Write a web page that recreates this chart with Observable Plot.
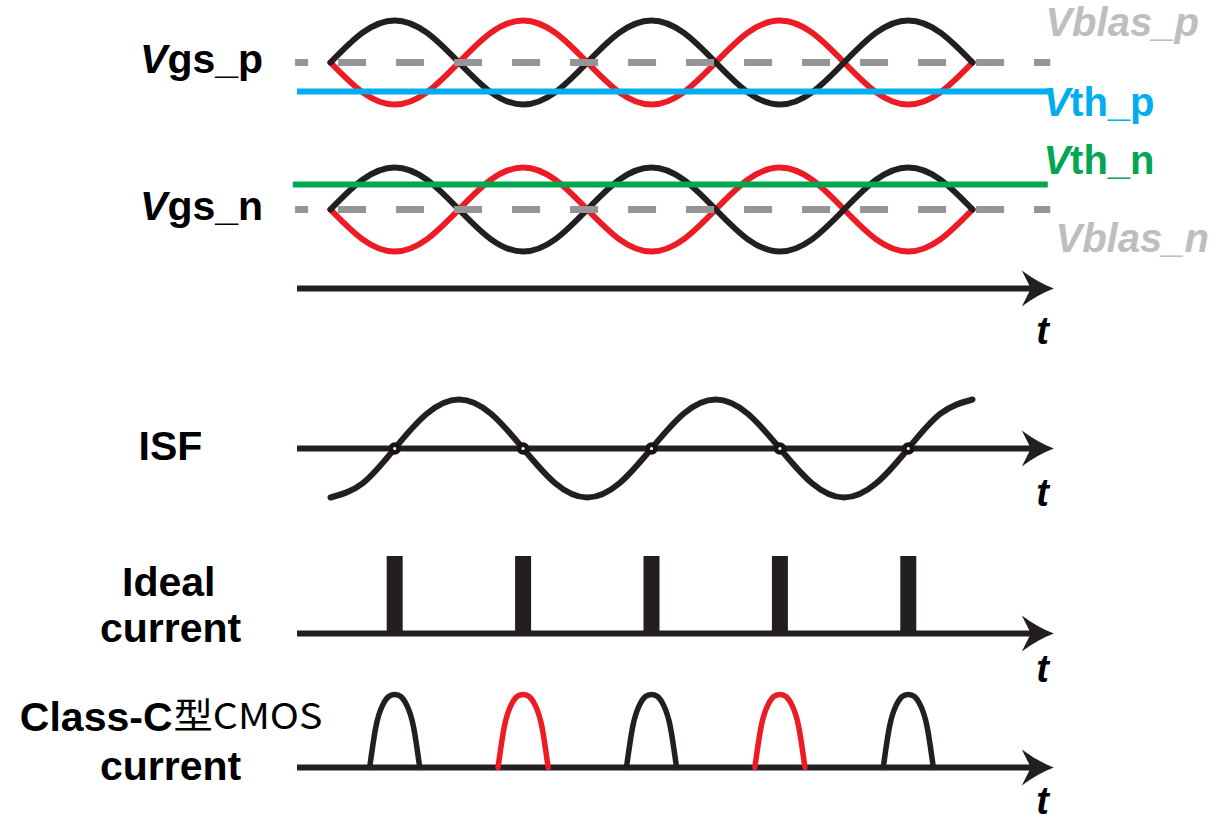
<!DOCTYPE html>
<html>
<head>
<meta charset="utf-8">
<script src="https://cdn.jsdelivr.net/npm/d3@7"></script>
<script src="https://cdn.jsdelivr.net/npm/@observablehq/plot@0.6"></script>
<style>
  html, body { margin: 0; padding: 0; background: #ffffff; }
  #chart svg { display: block; }
</style>
</head>
<body>
<div id="chart"></div>
<script>
// ---------- data (time in half-periods of the oscillation) ----------
const knotT = [0, 0.25, 0.5, 0.75, 1, 1.25, 1.5, 1.75, 2, 2.25, 2.5, 2.75, 3, 3.25, 3.5, 3.75, 4, 4.25, 4.5, 4.75, 5];
// Vgs waveforms (normalised)
const vgsBlack = [0, 0.71, 1, 0.71, 0, -0.71, -1, -0.71, 0, 0.71, 1, 0.71, 0, -0.71, -1, -0.71, 0, 0.71, 1, 0.71, 0];
const vgsRed   = [0, -0.71, -1, -0.71, 0, 0.71, 1, 0.71, 0, -0.71, -1, -0.71, 0, 0.71, 1, 0.71, 0, -0.71, -1, -0.71, 0];
// impulse sensitivity function
const isfValues = [-1, -0.71, 0, 0.71, 1, 0.71, 0, -0.71, -1, -0.71, 0, 0.71, 1, 0.71, 0, -0.71, -1, -0.71, 0, 0.71, 1];
// current pulses at ISF zero crossings
const pulseTimes = [0.5, 1.5, 2.5, 3.5, 4.5];
const pulseColors = ["#231f20", "#ed1c24", "#231f20", "#ed1c24", "#231f20"];
// Class-C pulse shape (normalised offset from centre, normalised height)
const bumpU = [-1, -0.75, -0.5, -0.25, 0, 0.25, 0.5, 0.75, 1];
const bumpV = [0, 0.56, 0.84, 0.97, 1, 0.97, 0.84, 0.56, 0];
const bumpHalfWidth = 0.195;

// vertical layout (rows, in picture units from top)
const vgsPRow = 62, vgsNRow = 209;
const vthPLevel = 91, vthNLevel = 184;
const vgsAmp = 42;
const axisRows = [288, 448, 633, 767];
const isfRow = 448, isfAmp = 49;
const idealRow = 633, idealTop = 556;
const classCRow = 767, classCHeight = 73;
const axisStart = -0.257, axisEnd = 5.5, arrowTip = 5.61;

// labels
const leftVgsRows = [59, 206];
const leftVgsSuffix = ["gs_p", "gs_n"];
const tLabelRows = [331, 493, 669, 801];

// ---------- derived tables ----------
const wave = (vals, base, amp) => knotT.map((t, i) => ({t, y: base - amp * vals[i]}));
const bumps = pulseTimes.flatMap((c, k) => bumpU.map((u, i) => ({
  t: c + u * bumpHalfWidth, y: classCRow - classCHeight * bumpV[i], k, color: pulseColors[k]
})));

const dark = "#231f20";
const arrowHead = {
  draw(ctx) {
    ctx.moveTo(3, 0);
    ctx.quadraticCurveTo(-13, -6, -29, -18);
    ctx.lineTo(-20, 0);
    ctx.lineTo(-29, 18);
    ctx.quadraticCurveTo(-13, 6, 3, 0);
    ctx.closePath();
  }
};
const F = "Liberation Sans, Arial, Helvetica, sans-serif";
const fs = 40;
const fsL = 41;

const chart = Plot.plot({
  width: 1225,
  height: 820,
  margin: 0,
  x: {domain: [0, 5], range: [330, 972], axis: null},
  y: {domain: [0, 820], range: [0, 820], axis: null},
  style: {background: "#ffffff", overflow: "visible"},
  marks: [
    // Vgs waveforms
    Plot.line(wave(vgsRed, vgsPRow, vgsAmp), {x: "t", y: "y", stroke: "#ed1c24", strokeWidth: 6, curve: "natural"}),
    Plot.line(wave(vgsRed, vgsNRow, vgsAmp), {x: "t", y: "y", stroke: "#ed1c24", strokeWidth: 6, curve: "natural"}),
    Plot.line(wave(vgsBlack, vgsPRow, vgsAmp), {x: "t", y: "y", stroke: dark, strokeWidth: 6, curve: "natural"}),
    Plot.line(wave(vgsBlack, vgsNRow, vgsAmp), {x: "t", y: "y", stroke: dark, strokeWidth: 6, curve: "natural"}),
    // thresholds
    Plot.ruleY([vthPLevel], {x1: axisStart, x2: 5.61, stroke: "#00aeef", strokeWidth: 6}),
    Plot.ruleY([vthNLevel], {x1: -0.29, x2: 5.59, stroke: "#00a651", strokeWidth: 6}),
    // bias (dashed)
    Plot.ruleY([vgsPRow, vgsNRow], {x1: axisStart - 0.015, x2: 5.61, stroke: "#939598", strokeWidth: 7,
      strokeDasharray: "28,30", strokeDashoffset: 15}),
    // time axes
    Plot.ruleY(axisRows, {x1: axisStart, x2: axisEnd, stroke: dark, strokeWidth: 6}),
    Plot.dot(axisRows, {x: arrowTip, y: d => d, symbol: arrowHead, fill: dark, stroke: "none"}),
    // ISF
    Plot.line(wave(isfValues, isfRow, isfAmp), {x: "t", y: "y", stroke: dark, strokeWidth: 6, curve: "natural"}),
    Plot.dot(pulseTimes, {x: d => d, y: isfRow, r: 3.9, fill: "#ffffff", stroke: "#1a1311", strokeWidth: 4.6}),
    // ideal current impulses
    Plot.ruleX(pulseTimes, {x: d => d, y1: idealRow, y2: idealTop, stroke: dark, strokeWidth: 16}),
    // Class-C current pulses
    Plot.line(bumps, {x: "t", y: "y", z: "k", stroke: "color", strokeWidth: 5.5, curve: "natural"}),

    // left labels
    Plot.text(leftVgsRows, {x: -1.27, y: d => d, text: () => "V", textAnchor: "end", fontStyle: "italic",
      fontFamily: F, fontWeight: "bold", fontSize: fsL, fill: "#000"}),
    Plot.text(leftVgsRows, {x: -1.27, y: d => d, text: (d, i) => leftVgsSuffix[i], textAnchor: "start",
      fontFamily: F, fontWeight: "bold", fontSize: fsL, fill: "#000"}),
    Plot.text(["ISF"], {x: -1.246, y: 446, text: d => d, fontFamily: F, fontWeight: "bold", fontSize: fsL, fill: "#000"}),
    Plot.text(["Ideal"], {x: -1.26, y: 582, text: d => d, fontFamily: F, fontWeight: "bold", fontSize: fsL, fill: "#000"}),
    Plot.text(["current"], {x: -1.246, y: 628, text: d => d, fontFamily: F, fontWeight: "bold", fontSize: fsL, fill: "#000"}),
    Plot.text(["Class-C"], {x: -1.2305, y: 717, text: d => d, textAnchor: "end", fontFamily: F, fontWeight: "bold", fontSize: fsL, fill: "#000"}),
    Plot.text(["型CMOS"], {x: -1.2227, y: 717, text: d => d, textAnchor: "start", fontFamily: "Noto Sans CJK SC, sans-serif", fontWeight: 400, fontSize: 36, fill: "#000"}),
    Plot.text(["current"], {x: -1.246, y: 766, text: d => d, fontFamily: F, fontWeight: "bold", fontSize: fsL, fill: "#000"}),

    // right labels
    Plot.text(["Vblas_p"], {x: 5.568, y: 23, text: d => d, textAnchor: "start", fontStyle: "italic", fontFamily: F, fontWeight: "bold", fontSize: fs, fill: "#bcbec0"}),
    Plot.text(["V"], {x: 5.76, y: 103, text: d => d, textAnchor: "end", fontStyle: "italic", fontFamily: F, fontWeight: "bold", fontSize: fs, fill: "#00aeef"}),
    Plot.text(["th_p"], {x: 5.76, y: 103, text: d => d, textAnchor: "start", fontFamily: F, fontWeight: "bold", fontSize: fs, fill: "#00aeef"}),
    Plot.text(["V"], {x: 5.76, y: 161, text: d => d, textAnchor: "end", fontStyle: "italic", fontFamily: F, fontWeight: "bold", fontSize: fs, fill: "#00a651"}),
    Plot.text(["th_n"], {x: 5.76, y: 161, text: d => d, textAnchor: "start", fontFamily: F, fontWeight: "bold", fontSize: fs, fill: "#00a651"}),
    Plot.text(["Vblas_n"], {x: 5.646, y: 239, text: d => d, textAnchor: "start", fontStyle: "italic", fontFamily: F, fontWeight: "bold", fontSize: fs, fill: "#bcbec0"}),
    Plot.text(tLabelRows, {x: 5.545, y: d => d, text: () => "t", fontStyle: "italic", fontFamily: F, fontWeight: "bold", fontSize: 38, fill: "#000"})
  ]
});

// squeeze the CJK run to the width it has in the original
d3.select(chart).selectAll("text").filter(function() { return this.textContent === "型CMOS"; })
  .attr("textLength", 149).attr("lengthAdjust", "spacingAndGlyphs");

document.getElementById("chart").appendChild(chart);
</script>
</body>
</html>
